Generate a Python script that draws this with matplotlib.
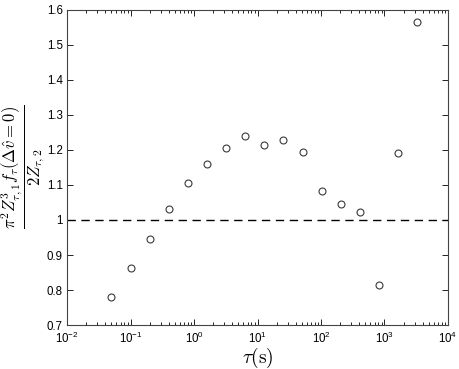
import numpy as np
import matplotlib
matplotlib.use("Agg")
import matplotlib.pyplot as plt
from matplotlib.ticker import LogLocator, MultipleLocator, NullLocator

plt.rcParams['font.family'] = ['Liberation Sans', 'DejaVu Sans']
plt.rcParams['mathtext.fontset'] = 'custom'
plt.rcParams['mathtext.rm'] = 'Liberation Sans'
plt.rcParams['mathtext.it'] = 'Liberation Sans:italic'

tau = [0.05, 0.1, 0.2, 0.4, 0.8, 1.6, 3.2, 6.4, 12.8, 25.6, 51.2,
       102.4, 204.8, 409.6, 819.2, 1638.4, 3276.8]
ratio = [0.779, 0.862, 0.945, 1.032, 1.105, 1.160, 1.207, 1.240, 1.215,
         1.229, 1.195, 1.083, 1.047, 1.022, 0.813, 1.191, 1.566]

fig = plt.figure(figsize=(4.6, 3.69), dpi=100)
ax = fig.add_axes([0.1457, 0.1192, 0.9739 - 0.1457, 0.973 - 0.1192])

ax.plot(tau, ratio, linestyle='none', marker='o', markersize=5,
        markerfacecolor='none', markeredgecolor='#3a3a3a', markeredgewidth=0.8)
ax.axhline(1.0, color='black', linestyle=(0, (6, 4)), linewidth=1.0)

ax.set_xscale('log')
ax.set_xlim(1e-2, 1e4)
ax.set_ylim(0.7, 1.6)
ax.xaxis.set_major_locator(LogLocator(base=10, numticks=20))
ax.xaxis.set_minor_locator(LogLocator(base=10, subs=np.arange(2, 10), numticks=20))
ax.yaxis.set_major_locator(MultipleLocator(0.1))
ax.yaxis.set_minor_locator(NullLocator())
ax.yaxis.set_major_formatter(matplotlib.ticker.FuncFormatter(
    lambda v, p: ('%g' % round(v, 1))))

ax.tick_params(which='both', direction='in', top=True, right=True,
               labelsize=8.3, colors='black', width=0.6)
ax.tick_params(axis='x', which='major', pad=4.5)
ax.tick_params(axis='y', which='major', pad=3)
ax.tick_params(which='major', length=4)
ax.tick_params(which='minor', length=2)
for s in ax.spines.values():
    s.set_linewidth(0.8)
    s.set_color('#444444')

ax.set_xlabel(r'$\tau(\mathrm{s})$', fontsize=14, math_fontfamily='cm', labelpad=-0.5)
fig.text(23 / 460, 1 - 167 / 369,
         r'$\dfrac{\pi^2 Z^3_{\tau,1} f_\tau(\Delta \hat{v}=0)}{2Z_{\tau,2}}$',
         fontsize=12, math_fontfamily='cm', rotation=90,
         ha='center', va='center', rotation_mode='anchor')

fig.savefig('out.png', dpi=100)
